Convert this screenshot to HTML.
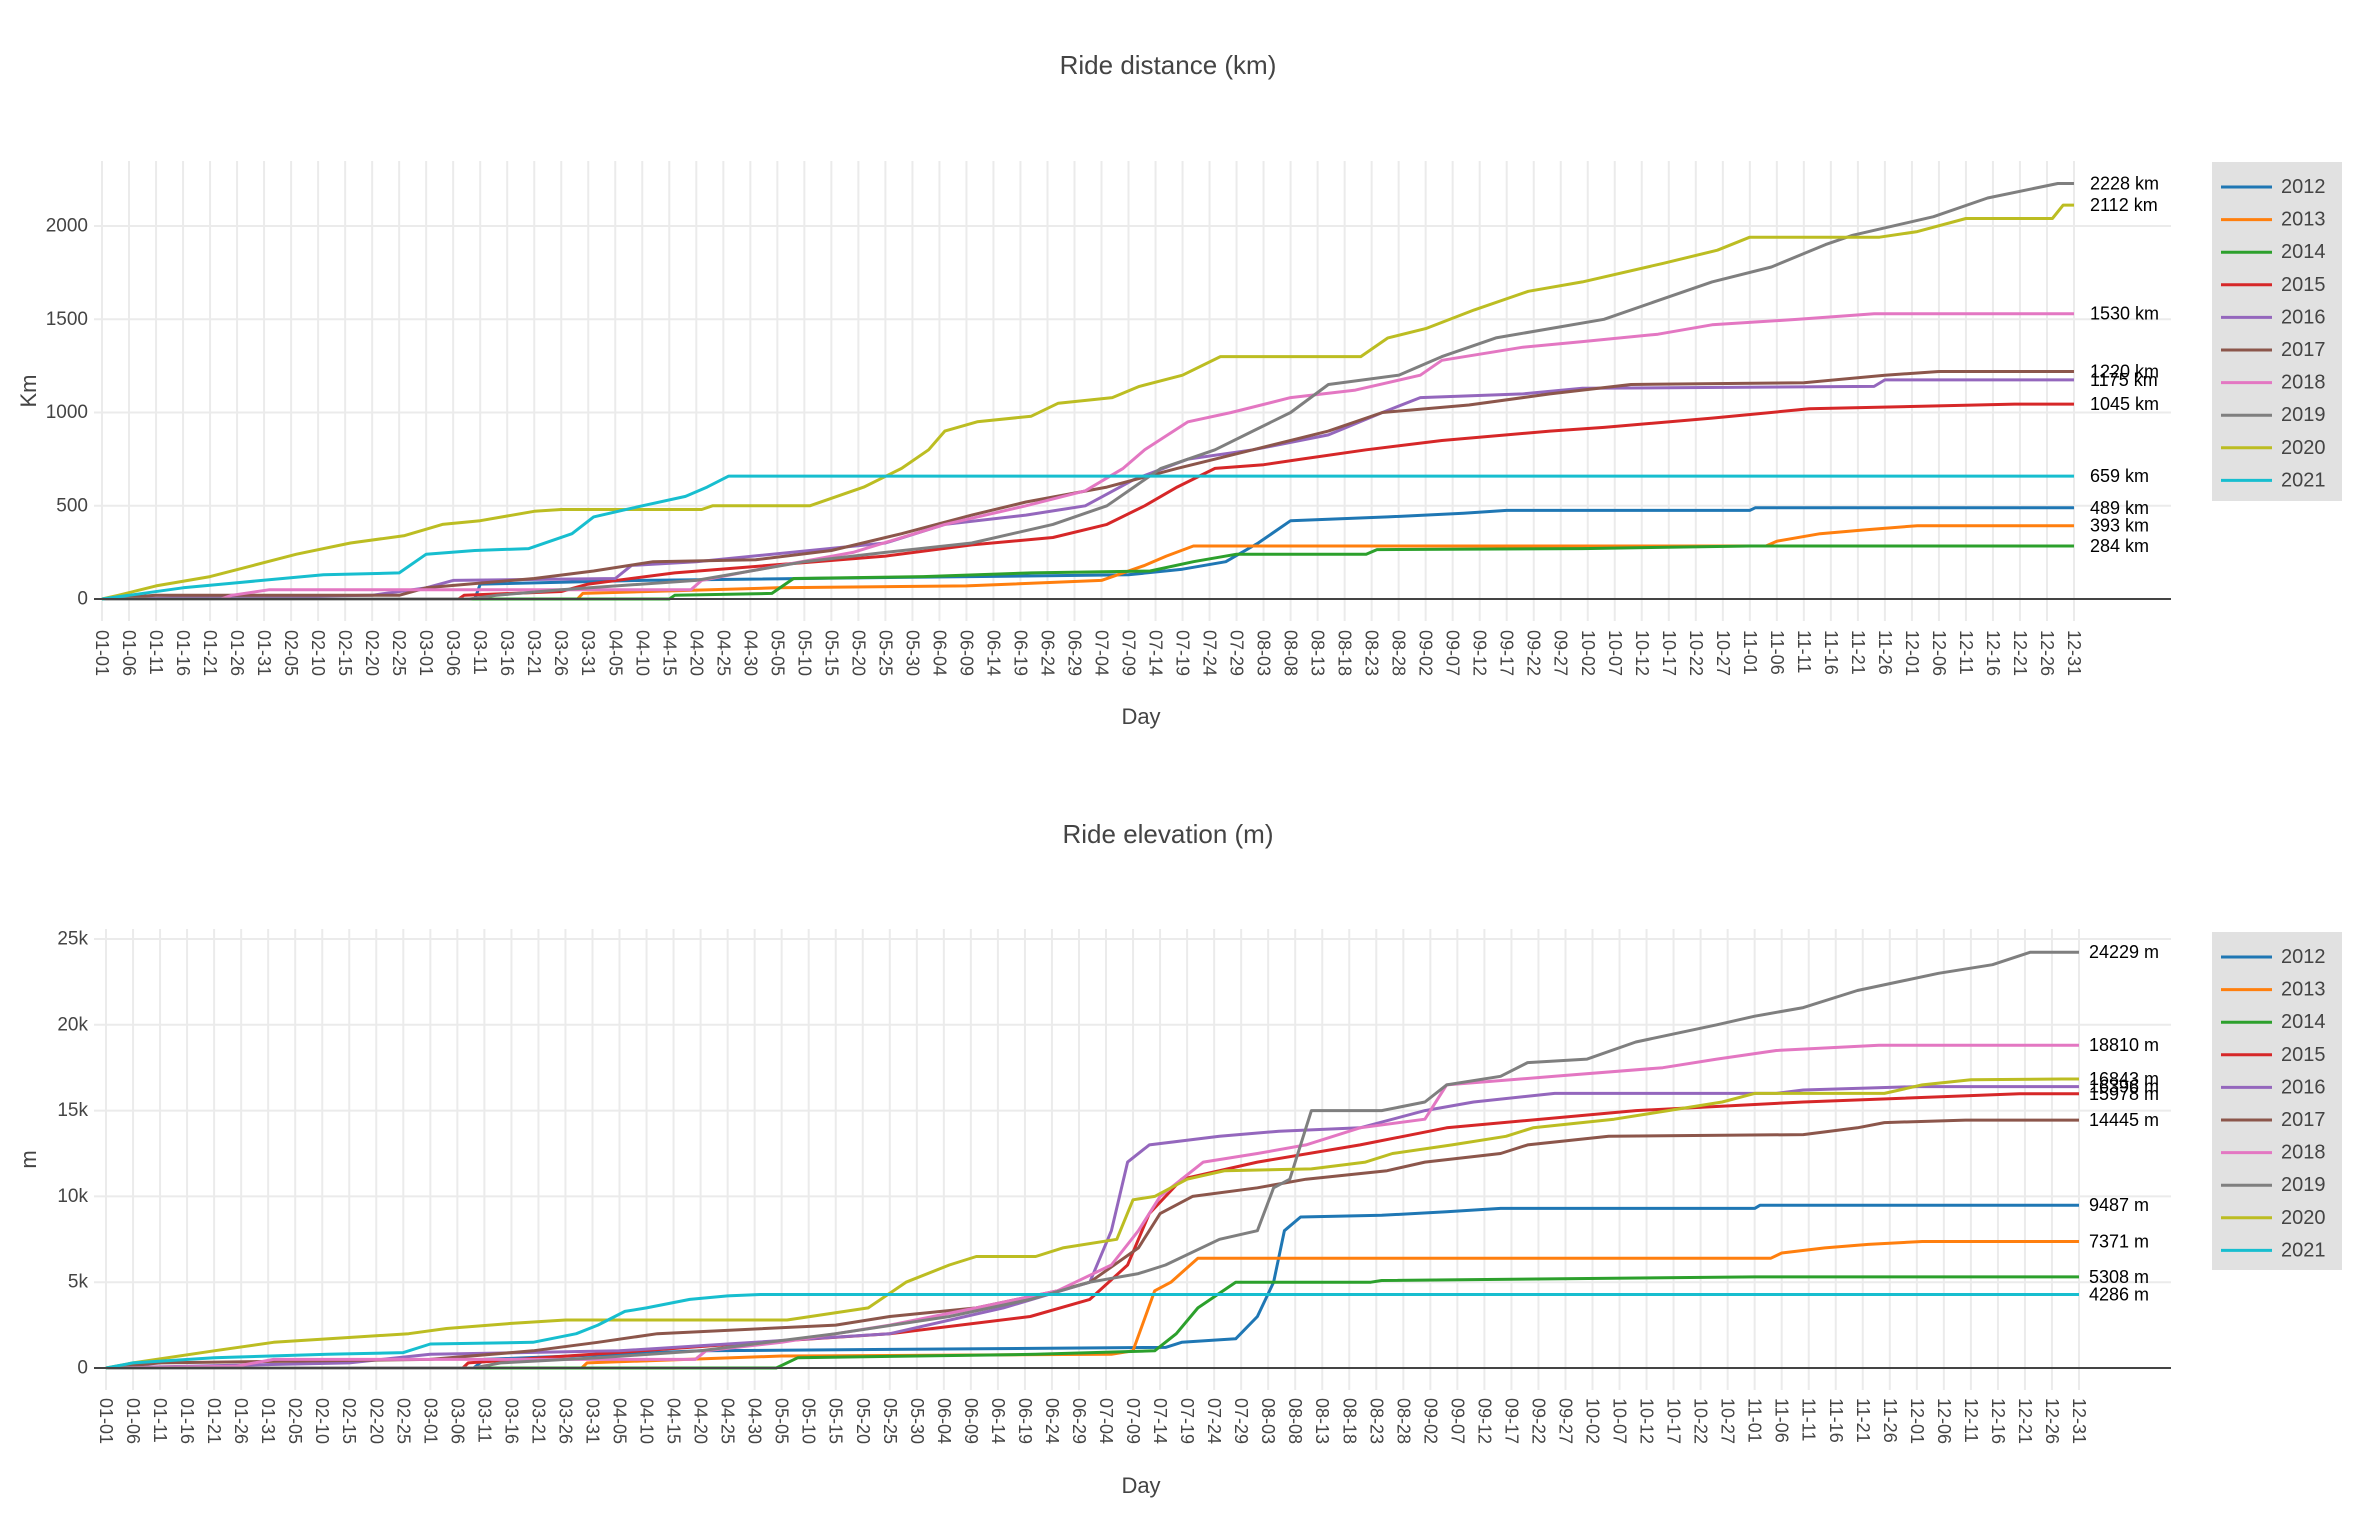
<!DOCTYPE html>
<html><head><meta charset="utf-8"><style>
html,body{margin:0;padding:0;background:#fff;}
svg{display:block;font-family:"Liberation Sans",sans-serif;}
</style></head><body>
<svg id="chart" width="2364" height="1518" viewBox="0 0 2364 1518" xmlns="http://www.w3.org/2000/svg"></svg>
<script>
const years = ['2012','2013','2014','2015','2016','2017','2018','2019','2020','2021'];
const colors = ['#1f77b4','#ff7f0e','#2ca02c','#d62728','#9467bd','#8c564b','#e377c2','#7f7f7f','#bcbd22','#17becf'];
const distTicks = [0,500,1000,1500,2000];
const distTickLabels = ['0','500','1000','1500','2000'];
const elevTicks = [0,5000,10000,15000,20000,25000];
const elevTickLabels = ['0','5k','10k','15k','20k','25k'];

const dist2012 = [[0,0],[69,0],[70,80],[100,100],[190,130],[200,160],[208,200],[214,300],[220,420],[238,440],[252,460],[260,475],[305,475],[306,489],[365,489]];
const dist2013 = [[0,0],[88,0],[89,30],[125,60],[160,70],[185,100],[193,180],[197,230],[202,284],[308,284],[310,310],[318,350],[326,370],[336,393],[365,393]];
const dist2014 = [[0,0],[105,0],[106,20],[124,30],[128,110],[152,120],[172,140],[194,150],[202,200],[210,240],[234,240],[236,265],[274,270],[305,284],[365,284]];
const dist2015 = [[0,0],[66,0],[67,20],[85,40],[90,80],[106,140],[132,200],[145,230],[161,290],[176,330],[186,400],[193,500],[199,600],[206,700],[215,720],[222,750],[234,800],[248,850],[268,900],[278,920],[298,970],[316,1020],[354,1045],[365,1045]];
const dist2016 = [[0,0],[50,20],[60,60],[65,100],[95,110],[98,180],[110,200],[145,300],[156,400],[171,450],[182,500],[191,640],[201,750],[213,800],[227,880],[237,1000],[244,1080],[263,1100],[274,1130],[328,1140],[330,1175],[365,1175]];
const dist2017 = [[0,0],[10,20],[55,20],[60,60],[80,110],[91,150],[102,200],[121,210],[135,260],[148,350],[161,450],[171,520],[186,600],[199,700],[213,800],[227,900],[237,1000],[253,1040],[268,1100],[283,1150],[315,1160],[330,1200],[340,1220],[365,1220]];
const dist2018 = [[0,0],[22,0],[24,20],[31,50],[109,50],[111,100],[120,150],[139,250],[156,400],[171,500],[182,580],[189,700],[193,800],[201,950],[209,1000],[220,1080],[232,1120],[244,1200],[248,1280],[263,1350],[274,1380],[288,1420],[298,1470],[314,1500],[328,1530],[365,1530]];
const dist2019 = [[0,0],[68,0],[73,20],[85,50],[110,100],[130,200],[145,250],[161,300],[176,400],[186,500],[191,600],[196,700],[206,800],[213,900],[220,1000],[227,1150],[240,1200],[248,1300],[258,1400],[268,1450],[278,1500],[288,1600],[298,1700],[309,1780],[319,1900],[324,1950],[339,2050],[349,2150],[362,2228],[365,2228]];
const dist2020 = [[0,0],[3,20],[10,70],[20,120],[28,180],[36,240],[46,300],[56,340],[63,400],[70,420],[80,470],[85,480],[111,480],[113,500],[131,500],[141,600],[148,700],[153,800],[156,900],[162,950],[172,980],[177,1050],[187,1080],[192,1140],[200,1200],[207,1300],[233,1300],[238,1400],[245,1450],[254,1550],[264,1650],[274,1700],[289,1800],[299,1870],[305,1940],[329,1940],[336,1970],[345,2040],[361,2040],[363,2112],[365,2112]];
const dist2021 = [[0,0],[5,20],[15,60],[26,90],[41,130],[55,140],[60,240],[69,260],[79,270],[87,350],[91,440],[100,500],[108,550],[112,600],[116,659],[365,659]];

const elev2012 = [[0,0],[68,0],[70,500],[110,1000],[152,1100],[196,1200],[199,1500],[209,1700],[213,3000],[216,5000],[218,8000],[221,8800],[236,8900],[248,9100],[258,9300],[305,9300],[306,9487],[365,9487]];
const elev2013 = [[0,0],[88,0],[89,300],[125,700],[186,800],[190,1000],[194,4500],[197,5000],[202,6400],[308,6400],[310,6700],[318,7000],[326,7200],[336,7371],[365,7371]];
const elev2014 = [[0,0],[124,0],[128,600],[172,800],[194,1000],[198,2000],[202,3500],[209,5000],[234,5000],[236,5100],[305,5308],[365,5308]];
const elev2015 = [[0,0],[66,0],[67,300],[90,800],[121,1500],[145,2000],[171,3000],[182,4000],[189,6000],[193,9000],[199,11000],[213,12000],[232,13000],[248,14000],[283,15000],[314,15500],[354,15978],[365,15978]];
const elev2016 = [[0,0],[45,300],[60,800],[95,1000],[145,2000],[166,3500],[182,5000],[186,8000],[189,12000],[193,13000],[206,13500],[217,13800],[232,14000],[244,15000],[253,15500],[268,16000],[309,16000],[314,16200],[335,16396],[365,16396]];
const elev2017 = [[0,0],[10,300],[60,500],[79,1000],[91,1500],[102,2000],[135,2500],[145,3000],[161,3500],[176,4500],[182,5000],[191,7000],[195,9000],[201,10000],[213,10500],[222,11000],[237,11500],[244,12000],[258,12500],[263,13000],[278,13500],[314,13600],[324,14000],[329,14300],[344,14445],[365,14445]];
const elev2018 = [[0,0],[24,100],[31,500],[109,500],[111,1000],[125,1500],[145,2500],[161,3500],[176,4500],[186,6000],[191,8000],[195,10000],[199,11000],[203,12000],[213,12500],[222,13000],[232,14000],[244,14500],[248,16500],[268,17000],[288,17500],[298,18000],[309,18500],[328,18810],[365,18810]];
const elev2019 = [[0,0],[68,0],[73,300],[91,600],[110,1000],[135,2000],[156,3000],[171,4000],[182,5000],[191,5500],[196,6000],[206,7500],[213,8000],[216,10500],[219,11000],[223,15000],[236,15000],[244,15500],[248,16500],[258,17000],[263,17800],[274,18000],[283,19000],[298,20000],[305,20500],[314,21000],[324,22000],[339,23000],[349,23500],[356,24229],[365,24229]];
const elev2020 = [[0,0],[5,300],[20,1000],[31,1500],[46,1800],[56,2000],[63,2300],[75,2600],[85,2800],[126,2800],[141,3500],[148,5000],[156,6000],[161,6500],[172,6500],[177,7000],[187,7500],[190,9800],[194,10000],[200,11000],[207,11500],[223,11600],[233,12000],[238,12500],[249,13000],[259,13500],[264,14000],[279,14500],[289,15000],[299,15500],[305,16000],[329,16000],[336,16500],[345,16800],[362,16843],[365,16843]];
const elev2021 = [[0,0],[5,300],[20,600],[41,800],[55,900],[60,1400],[79,1500],[87,2000],[91,2500],[96,3300],[100,3500],[108,4000],[115,4200],[121,4286],[365,4286]];

const distSeries = [dist2012,dist2013,dist2014,dist2015,dist2016,dist2017,dist2018,dist2019,dist2020,dist2021];
const elevSeries = [elev2012,elev2013,elev2014,elev2015,elev2016,elev2017,elev2018,elev2019,elev2020,elev2021];

const NS = 'http://www.w3.org/2000/svg';
const svg = document.getElementById('chart');
function mk(tag, attrs, parent) {
  const e = document.createElementNS(NS, tag);
  for (const k in attrs) e.setAttribute(k, attrs[k]);
  (parent || svg).appendChild(e);
  return e;
}
const monthStart = [0,31,60,91,121,152,182,213,244,274,305,335];
function dayLabel(d) {
  let m = 0;
  for (let i = 0; i < 12; i++) if (d >= monthStart[i]) m = i;
  const dd = d - monthStart[m] + 1;
  return String(m + 1).padStart(2, '0') + '-' + String(dd).padStart(2, '0');
}

function panel(cfg) {
  const g = mk('g', {});
  
  
  const xs = d => cfg.x0 + d * (cfg.x1 - cfg.x0) / 365;
  const ys = v => cfg.yZero - v * cfg.pxPer;
  // title
  const t = mk('text', {x: 1168, y: cfg.titleY, 'text-anchor': 'middle', 'font-size': 26, fill: '#444'}, g);
  t.textContent = cfg.title;
  
  
  // vertical gridlines + x ticks
  for (let d = 0; d <= 365; d += 5) {
    const gl = mk('line', {x1: xs(d), x2: xs(d), y1: cfg.top, y2: cfg.bottom, stroke: '#ebebeb', 'stroke-width': 2}, g);
    
    
    const tx = mk('text', {x: 0, y: 0, 'font-size': 18, fill: '#444', 'dominant-baseline': 'central',
      transform: 'translate(' + xs(d) + ',' + cfg.tickTop + ') rotate(90)'}, g);
    tx.textContent = dayLabel(d);
    
    
  }
  // horizontal gridlines + y ticks
  cfg.ticks.forEach((v, i) => {
    if (v !== 0) {
      const gl = mk('line', {x1: cfg.left, x2: cfg.right, y1: ys(v), y2: ys(v), stroke: '#ebebeb', 'stroke-width': 2}, g);
      
      
    }
    const ty = mk('text', {x: cfg.left - 6, y: ys(v), 'text-anchor': 'end', 'dominant-baseline': 'central', 'font-size': 19, fill: '#444'}, g);
    ty.textContent = cfg.tickLabels[i];
    
    
  });
  // series
  cfg.series.forEach((pts, i) => {
    const p = mk('polyline', {points: pts.map(q => xs(q[0]).toFixed(1) + ',' + ys(q[1]).toFixed(1)).join(' '),
      fill: 'none', stroke: colors[i], 'stroke-width': 3, 'stroke-linejoin': 'round'}, g);
    
    
  });
  // zero line
  const z = mk('line', {x1: cfg.left, x2: cfg.right, y1: ys(0), y2: ys(0), stroke: '#444', 'stroke-width': 2}, g);
  
  
  // end labels
  cfg.series.forEach((pts, i) => {
    const last = pts[pts.length - 1][1];
    const l = mk('text', {x: cfg.labelX, y: ys(last), 'dominant-baseline': 'central', 'font-size': 18, fill: '#000'}, g);
    l.textContent = last + ' ' + cfg.unit;
    
    
  });
  // axis titles
  const yt = mk('text', {x: 0, y: 0, 'text-anchor': 'middle', 'font-size': 22, fill: '#444',
    transform: 'translate(' + 36 + ',' + ((cfg.top + cfg.bottom) / 2) + ') rotate(-90)'}, g);
  yt.textContent = cfg.yTitle;
  
  
  const xt = mk('text', {x: 1141, y: cfg.dayY, 'text-anchor': 'middle', 'font-size': 22, fill: '#444'}, g);
  xt.textContent = 'Day';
  
  
  // legend
  const lg = mk('g', {}, g);
  
  
  mk('rect', {x: 2212, y: cfg.legTop, width: 130, height: cfg.legH, fill: '#e1e1e1'}, lg);
  years.forEach((yr, i) => {
    const yy = cfg.legFirst + i * cfg.legStep;
    const e = mk('g', {}, lg);
    
    
    mk('line', {x1: 2221, x2: 2272, y1: yy, y2: yy, stroke: colors[i], 'stroke-width': 3}, e);
    const tt = mk('text', {x: 2281, y: yy, 'dominant-baseline': 'central', 'font-size': 20, fill: '#444'}, e);
    tt.textContent = yr;
  });
}

panel({name: 'distance-chart', title: 'Ride distance (km)', titleY: 74, x0: 102, x1: 2074, left: 94, right: 2171,
  top: 161, bottom: 621, yZero: 599, pxPer: (599 - 226) / 2000, ticks: distTicks, tickLabels: distTickLabels,
  series: distSeries, unit: 'km', labelX: 2090, yTitle: 'Km', tickTop: 630, dayY: 724,
  legTop: 162, legH: 339, legFirst: 187, legStep: 32.6});
panel({name: 'elevation-chart', title: 'Ride elevation (m)', titleY: 843, x0: 106, x1: 2079, left: 94, right: 2171,
  top: 929, bottom: 1390, yZero: 1368, pxPer: (1368 - 939) / 25000, ticks: elevTicks, tickLabels: elevTickLabels,
  series: elevSeries, unit: 'm', labelX: 2089, yTitle: 'm', tickTop: 1398, dayY: 1493,
  legTop: 932, legH: 338, legFirst: 957, legStep: 32.6});
</script>
</body></html>
